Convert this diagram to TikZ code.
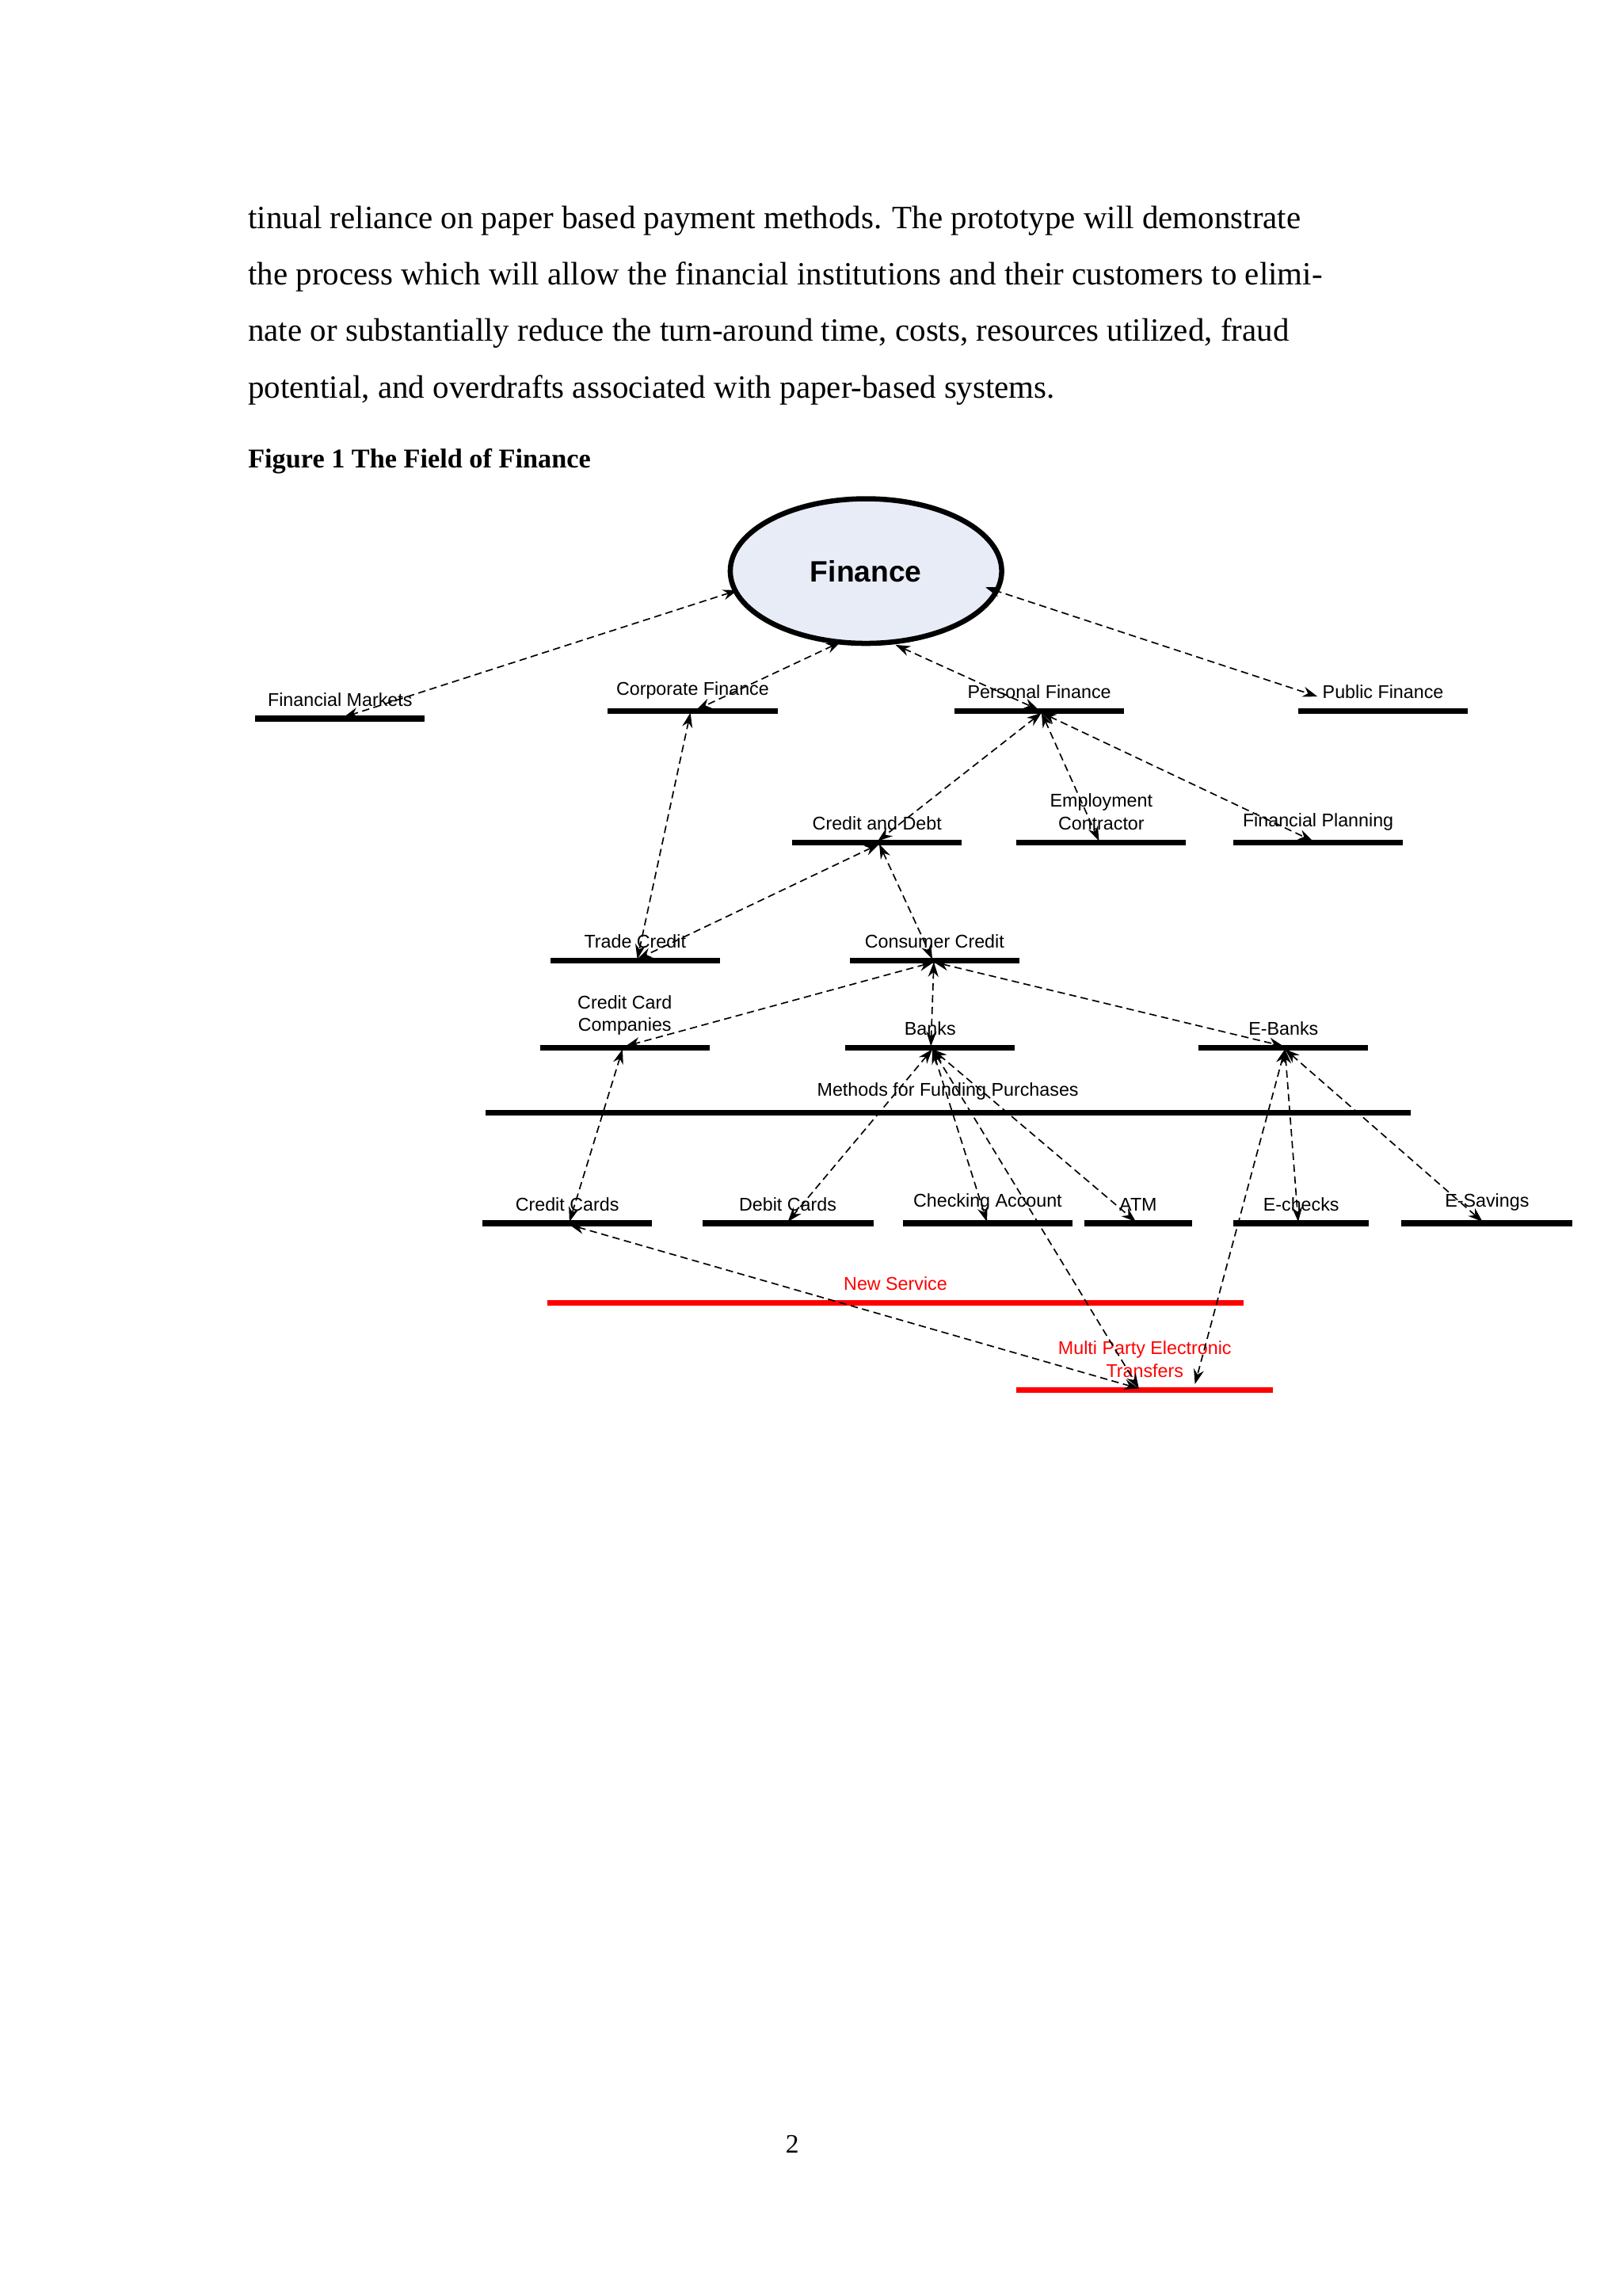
\documentclass[tikz,border=0pt]{standalone}
\usepackage{fontspec}
\setmainfont{Liberation Serif}
\newfontfamily\lsans{Liberation Sans}
\usetikzlibrary{arrows.meta,shapes.geometric}
\begin{document}
\begin{tikzpicture}[x=1pt,y=1pt,
  bar/.style={fill=black,draw=none,rectangle,inner sep=0pt,minimum height=4pt},
  redbar/.style={fill=red,draw=none,rectangle,inner sep=0pt,minimum height=4pt},
  lab/.style={font=\lsans\fontsize{12.5}{15.5}\selectfont,anchor=south,inner sep=0pt,align=center},
  rlab/.style={lab,text=red},
  body/.style={font=\fontsize{22}{26}\selectfont,anchor=base west,inner sep=0pt},
  link/.style={dash pattern=on 5pt off 3pt,line width=0.9pt,{Stealth[length=10pt,width=7pt]}-{Stealth[length=10pt,width=7pt]}}]
\useasboundingbox (0,0) rectangle (1100,-1556);
\fill[white] (0,0) rectangle (1100,-1556);
% body text
\node[body] (t1) at (168,-155) {tinual reliance on paper based payment methods. The prototype will demonstrate};
\node[body] (t2) at (168,-193) {the process which will allow the financial institutions and their customers to elimi-};
\node[body] (t3) at (168,-231) {nate or substantially reduce the turn-around time, costs, resources utilized, fraud};
\node[body] (t4) at (168,-270) {potential, and overdrafts associated with paper-based systems.};
\node[body,font=\bfseries\fontsize{18.4}{22}\selectfont] (cap) at (168,-317) {Figure 1 The Field of Finance};
\node[body,anchor=base,font=\fontsize{18}{22}\selectfont] (pg) at (537,-1459) {2};
% Finance
\node[ellipse,draw=black,line width=3.5pt,fill={rgb,255:red,232;green,236;blue,247},minimum width=184pt,minimum height=98pt,inner sep=0pt,font=\lsans\bfseries\fontsize{20}{24}\selectfont] (fin) at (587,-387) {Finance};
% bars
\node[bar,minimum width=115pt] (fm) at (230.5,-487) {};
\node[bar,minimum width=115pt] (cf) at (469.5,-482) {};
\node[bar,minimum width=115pt] (pf) at (704.5,-482) {};
\node[bar,minimum width=115pt] (pubf) at (937.5,-482) {};
\node[bar,minimum width=115pt] (cd) at (594.5,-571) {};
\node[bar,minimum width=115pt] (ec) at (746.5,-571) {};
\node[bar,minimum width=115pt] (fp) at (893.5,-571) {};
\node[bar,minimum width=115pt] (tc) at (430.5,-651) {};
\node[bar,minimum width=115pt] (cc) at (633.5,-651) {};
\node[bar,minimum width=115pt] (ccc) at (423.5,-710) {};
\node[bar,minimum width=115pt] (bk) at (630.5,-710) {};
\node[bar,minimum width=115pt] (eb) at (870,-710) {};
\node[bar,minimum width=627pt] (mf) at (642.5,-754) {};
\node[bar,minimum width=115pt] (crc) at (384.5,-829) {};
\node[bar,minimum width=116pt] (dc) at (534,-829) {};
\node[bar,minimum width=115pt] (ca) at (669.5,-829) {};
\node[bar,minimum width=73pt] (atm) at (771.5,-829) {};
\node[bar,minimum width=92pt] (ech) at (882,-829) {};
\node[bar,minimum width=116pt] (es) at (1008,-829) {};
\node[redbar,minimum width=472pt] (ns) at (607,-883) {};
\node[redbar,minimum width=174pt] (mp) at (776,-942) {};
% labels
\node[lab] (fml) at ([yshift=6pt]fm.north) {Financial Markets};
\node[lab] (cfl) at ([yshift=6pt]cf.north) {Corporate Finance};
\node[lab] (pfl) at ([yshift=6pt]pf.north) {Personal Finance};
\node[lab] (pubfl) at ([yshift=6pt]pubf.north) {Public Finance};
\node[lab] (cdl) at ([yshift=6pt]cd.north) {Credit and Debt};
\node[lab] (ecl) at ([yshift=6pt]ec.north) {Employment\\Contractor};
\node[lab] (fpl) at ([yshift=6pt]fp.north) {Financial Planning};
\node[lab] (tcl) at ([yshift=6pt]tc.north) {Trade Credit};
\node[lab] (ccl) at ([yshift=6pt]cc.north) {Consumer Credit};
\node[lab] (cccl) at ([yshift=6pt]ccc.north) {Credit Card\\Companies};
\node[lab] (bkl) at ([yshift=6pt]bk.north) {Banks};
\node[lab] (ebl) at ([yshift=6pt]eb.north) {E-Banks};
\node[lab] (mfl) at ([yshift=6pt]mf.north) {Methods for Funding Purchases};
\node[lab] (crcl) at ([yshift=6pt]crc.north) {Credit Cards};
\node[lab] (dcl) at ([yshift=6pt]dc.north) {Debit Cards};
\node[lab] (cal) at ([yshift=6pt]ca.north) {Checking Account};
\node[lab] (atml) at ([yshift=6pt]atm.north) {ATM};
\node[lab] (echl) at ([yshift=6pt]ech.north) {E-checks};
\node[lab] (esl) at ([yshift=6pt]es.north) {E-Savings};
\node[rlab] (nsl) at ([yshift=6pt]ns.north) {New Service};
\node[rlab] (mpl) at ([yshift=6pt]mp.north) {Multi Party Electronic\\Transfers};
% endpoint coordinates
\coordinate (f1) at (500,-400);
\coordinate (f2) at (570,-435);
\coordinate (f3) at (607,-437);
\coordinate (f4) at (668,-398);
\coordinate (fmP) at (233,-486);
\coordinate (cfP) at (472,-481);
\coordinate (cfQ) at (468,-483);
\coordinate (pfP) at (704,-481);
\coordinate (pfQ) at (706,-483);
\coordinate (pubP) at (893,-472);
\coordinate (cdP) at (595,-570);
\coordinate (cdQ) at (596,-572);
\coordinate (ecP) at (745,-570);
\coordinate (fpP) at (890,-570);
\coordinate (tcP) at (432,-650);
\coordinate (ccP) at (632,-650);
\coordinate (ccQ) at (633,-652);
\coordinate (cccP) at (424,-709);
\coordinate (cccQ) at (422,-711);
\coordinate (bkP) at (631,-709);
\coordinate (bkQ) at (632,-711);
\coordinate (ebP) at (870,-709);
\coordinate (ebQ) at (871,-711);
\coordinate (crcP) at (386,-828);
\coordinate (crcQ) at (386,-830);
\coordinate (dcP) at (534,-828);
\coordinate (caP) at (669,-828);
\coordinate (atmP) at (770,-828);
\coordinate (echP) at (880,-828);
\coordinate (esP) at (1005,-828);
\coordinate (mpP) at (772,-941);
\coordinate (mpQ) at (810,-938);
% connectors
\draw[link] (f1) -- (fmP);
\draw[link] (f2) -- (cfP);
\draw[link] (f3) -- (pfP);
\draw[link] (f4) -- (pubP);
\draw[link] (cfQ) -- (tcP);
\draw[link] (pfQ) -- (cdP);
\draw[link] (pfQ) -- (ecP);
\draw[link] (pfQ) -- (fpP);
\draw[link] (cdQ) -- (tcP);
\draw[link] (cdQ) -- (ccP);
\draw[link] (ccQ) -- (cccP);
\draw[link] (ccQ) -- (bkP);
\draw[link] (ccQ) -- (ebP);
\draw[link] (cccQ) -- (crcP);
\draw[link] (bkQ) -- (dcP);
\draw[link] (bkQ) -- (caP);
\draw[link] (bkQ) -- (mpP);
\draw[link] (bkQ) -- (atmP);
\draw[link] (ebQ) -- (echP);
\draw[link] (ebQ) -- (esP);
\draw[link] (ebQ) -- (mpQ);
\draw[link] (crcQ) -- (mpP);
\end{tikzpicture}
\end{document}
